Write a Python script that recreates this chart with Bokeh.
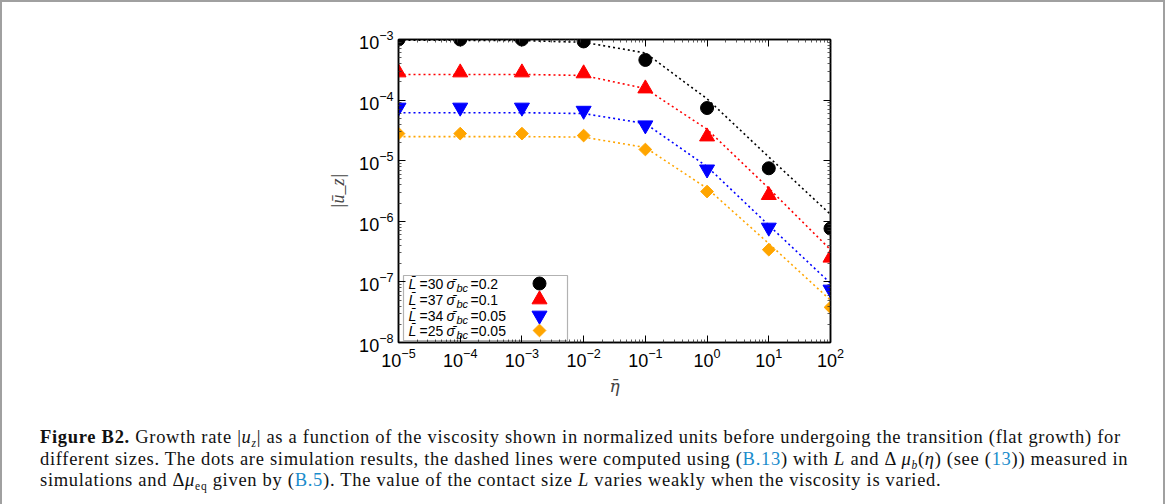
import math
from bokeh.plotting import figure
from bokeh.models import FixedTicker, LogAxis, Label, BoxAnnotation, Div
from bokeh.layouts import column
from bokeh.embed import file_html
from bokeh.resources import INLINE

# ---------------- data ----------------
eta = [1e-5, 1e-4, 1e-3, 1e-2, 1e-1, 1e0, 1e1, 1e2]

# simulation results (dots)
uz_L30 = [1.0e-3, 1.0e-3, 1.0e-3, 9.3e-4, 4.6e-4, 7.4e-5, 7.5e-6, 7.6e-7]
uz_L37 = [2.85e-4, 2.85e-4, 2.85e-4, 2.75e-4, 1.55e-4, 2.5e-5, 2.7e-6, 2.5e-7]
uz_L34 = [7.55e-5, 7.55e-5, 7.55e-5, 6.7e-5, 3.85e-5, 7.2e-6, 7.9e-7, 7.5e-8]
uz_L25 = [2.8e-5, 2.8e-5, 2.8e-5, 2.6e-5, 1.53e-5, 3.1e-6, 3.4e-7, 3.8e-8]

# computed curves (dashed lines)
fit_L30 = [9.7e-4, 9.7e-4, 9.6e-4, 9.0e-4, 6.0e-4, 1.05e-4, 1.15e-5, 1.3e-6]
fit_L37 = [2.65e-4, 2.65e-4, 2.65e-4, 2.55e-4, 1.55e-4, 3.3e-5, 3.5e-6, 3.4e-7]
fit_L34 = [6.2e-5, 6.2e-5, 6.2e-5, 6.0e-5, 4.1e-5, 8.0e-6, 8.6e-7, 9.5e-8]
fit_L25 = [2.5e-5, 2.5e-5, 2.5e-5, 2.45e-5, 1.65e-5, 3.5e-6, 4.3e-7, 5.0e-8]

L_values = ["30", "37", "34", "25"]
sigma_values = ["0.2", "0.1", "0.05", "0.05"]
colors = ["black", "#ff0000", "#0000ff", "#ffa500"]
markers = ["circle", "triangle", "inverted_triangle", "square"]
marker_sizes = [13, 15, 15, 9]
marker_angles = [0, 0, 0, math.pi / 4]

x_ticks = [1e-5, 1e-4, 1e-3, 1e-2, 1e-1, 1e0, 1e1, 1e2]
y_ticks = [1e-8, 1e-7, 1e-6, 1e-5, 1e-4, 1e-3]

# ---------------- geometry (layout only) ----------------
X0, X1 = 1e-5, 1e2
Y0, Y1 = 1e-8, 1e-3
FL, FT, FW, FH = 397, 40, 432, 303   # frame left/top/width/height in page px
FB = FT + FH
BORDER_L, BORDER_T = 10, 10           # nominal canvas origin
DX, DY = 9, 7                         # measured correction
FIG_W, FIG_H = 1151, 390
MBL = FL - BORDER_L + DX
MBT = FT - BORDER_T + DY


def xd(px):
    return 10 ** (math.log10(X0) + (px - FL) / FW * (math.log10(X1) - math.log10(X0)))


def yd(py):
    return 10 ** (math.log10(Y1) - (py - FT) / FH * (math.log10(Y1) - math.log10(Y0)))


p = figure(x_axis_type="log", y_axis_type="log",
           x_range=(X0, X1), y_range=(Y0, Y1),
           frame_width=FW, frame_height=FH,
           min_border_left=MBL, min_border_right=FIG_W - MBL - FW,
           min_border_top=MBT, min_border_bottom=FIG_H - MBT - FH,
           output_backend="svg", toolbar_location=None)

p.grid.visible = False
p.outline_line_color = "black"
p.outline_line_width = 1.5
p.background_fill_color = "white"
p.border_fill_color = "white"

minor_x = [m * 10 ** e for e in range(-5, 2) for m in range(2, 10)]
minor_y = [m * 10 ** e for e in range(-8, -3) for m in range(2, 10)]

TICK_FONT = "Liberation Sans"


def style_axis(ax, ticks, minors, labels=True):
    ax.ticker = FixedTicker(ticks=ticks, minor_ticks=minors)
    ax.major_tick_in = 7
    ax.major_tick_out = 0
    ax.minor_tick_in = 3
    ax.minor_tick_out = 0
    ax.axis_line_color = "black"
    ax.axis_line_width = 1.5
    ax.major_tick_line_color = "black"
    ax.minor_tick_line_color = "#333333"
    ax.major_tick_line_width = 1
    ax.minor_tick_line_width = 0.8
    ax.major_label_text_font = TICK_FONT
    ax.major_label_text_font_size = "18px"
    ax.major_label_text_color = "black" if labels else None


xb = p.xaxis[0]
yl = p.yaxis[0]
style_axis(xb, x_ticks, minor_x)
style_axis(yl, y_ticks, minor_y)
xb.major_label_standoff = 5
yl.major_label_standoff = 5

top_ax = LogAxis()
style_axis(top_ax, x_ticks, minor_x, labels=False)
p.add_layout(top_ax, "above")
right_ax = LogAxis()
style_axis(right_ax, y_ticks, minor_y, labels=False)
p.add_layout(right_ax, "right")

# axis labels
xb.axis_label = "\u03b7\u0304"
xb.axis_label_text_font = "DejaVu Serif"
xb.axis_label_text_font_style = "italic"
xb.axis_label_text_font_size = "17px"
xb.axis_label_standoff = 6

yl.axis_label = "|u\u0304_z|"
yl.axis_label_text_font = "Liberation Serif"
yl.axis_label_text_font_style = "italic"
yl.axis_label_text_font_size = "18px"
yl.axis_label_standoff = 8

# ---------------- series ----------------
uz_all = [uz_L30, uz_L37, uz_L34, uz_L25]
fit_all = [fit_L30, fit_L37, fit_L34, fit_L25]
for uz, fit, c, m, s, a in zip(uz_all, fit_all, colors, markers, marker_sizes, marker_angles):
    p.line(eta, fit, line_color=c, line_width=1.6, line_dash="2 3")
    p.scatter(eta, uz, marker=m, size=s, angle=a, fill_color=c, line_color=c)

# ---------------- legend (gnuplot style: text left, symbol right) -------
p.add_layout(BoxAnnotation(left=xd(402), right=xd(566), top=yd(276), bottom=yd(341),
                           fill_alpha=0.0, line_color="black", line_width=1.2))
row_y = [284, 300, 316, 331]
LEG_FONT = "Liberation Sans"
for i in range(4):
    py = row_y[i]
    pieces = [
        ("L\u0304", 407, "italic", "14px", 0),
        ("=" + L_values[i], 418, "normal", "14px", 0),
        ("\u03c3\u0304", 445, "italic", "14px", 0),
        ("bc", 455, "italic", "11px", 4),
        ("=" + sigma_values[i], 469, "normal", "14px", 0),
    ]
    for txt, px, style, size, dy in pieces:
        p.add_layout(Label(x=px - FL, y=FB - (py + dy),
                           x_units="screen", y_units="screen", text=txt,
                           text_align="left", text_baseline="middle",
                           text_font=LEG_FONT, text_font_style=style,
                           text_font_size=size, text_color="black"))
    p.scatter([xd(538)], [yd(py)], marker=markers[i], size=marker_sizes[i],
              angle=marker_angles[i], fill_color=colors[i], line_color=colors[i])

# ---------------- caption ----------------
link = "color:#1a8ccc;"
sub = "font-size:11.5px;vertical-align:-4px;line-height:0;"
caption_html = (
    "<div style=\"font-family:'Liberation Serif',serif;font-size:18.5px;letter-spacing:0.7px;"
    "line-height:21.5px;color:#111;white-space:nowrap;\">"
    "<b>Figure B2.</b> Growth rate |<i>u<span style='" + sub + "'>z</span></i>| as a function of the "
    "viscosity shown in normalized units before undergoing the transition (flat growth) for<br>"
    "different sizes. The dots are simulation results, the dashed lines were computed using "
    "(<span style='" + link + "'>B.13</span>) with <i>L</i> and &Delta; <i>&mu;<span style='" + sub + "'>b</span></i>(<i>&eta;</i>) "
    "(see (<span style='" + link + "'>13</span>)) measured in<br>"
    "simulations and &Delta;<i>&mu;</i><span style='" + sub + "'>eq</span> given by "
    "(<span style='" + link + "'>B.5</span>). The value of the contact size <i>L</i> varies "
    "weakly when the viscosity is varied."
    "</div>"
)
cap = Div(text=caption_html, width=FIG_W, height=99,
          styles={"padding-left": "33px", "padding-top": "24px", "box-sizing": "border-box"})

layout = column(p, cap, spacing=0,
                styles={"border": "2px solid #a0a0a0", "background": "white"})

open("out.html", "w").write(file_html(layout, INLINE))
